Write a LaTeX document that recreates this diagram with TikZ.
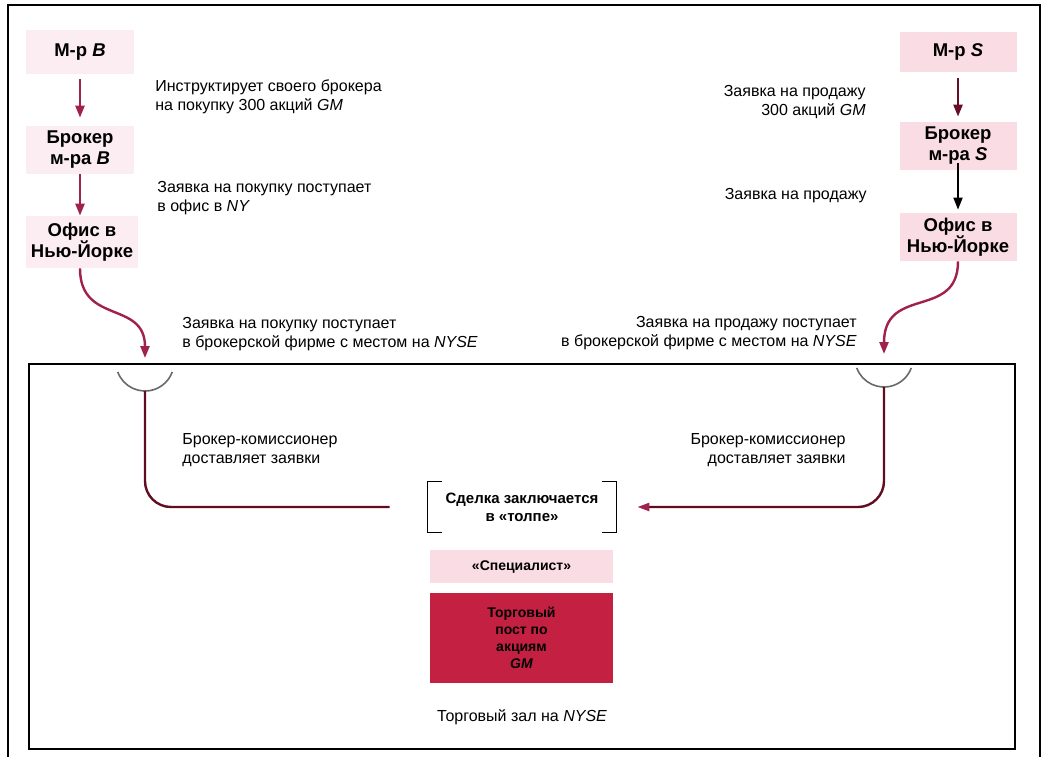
\documentclass[tikz,border=0pt]{standalone}
\usepackage{fontspec}
\setmainfont{Liberation Sans}
\usetikzlibrary{arrows.meta}

\definecolor{orderred}{RGB}{160,32,78}
\definecolor{wine}{RGB}{98,12,34}
\definecolor{blush}{RGB}{250,220,228}
\definecolor{postred}{RGB}{196,32,66}
\definecolor{arcgray}{RGB}{105,105,105}

\tikzset{every picture/.style={line width=0.75pt}}
\tikzset{
  party/.style={fill=blush, align=center, inner sep=0pt, minimum width=108, font=\bfseries\fontsize{18.5}{21}\selectfont},
  note/.style={inner sep=0pt, font=\fontsize{16}{19}\selectfont},
  order/.style={draw=orderred, line width=2.4pt, -{Triangle[length=12pt,width=9pt]}},
  route/.style={draw=wine, line width=2.4pt, rounded corners=26pt},
  floorbox/.style={minimum width=183, inner sep=0pt, align=center, font=\bfseries\fontsize{14}{17}\selectfont}
}

\begin{document}
\begin{tikzpicture}[x=1pt,y=1pt,yscale=-1,xscale=1]
\useasboundingbox (0,0) rectangle (1043,756);

%Frames
\draw [line width=2pt] (8,760) -- (8,5) -- (1040,5) -- (1040,760) ;
\draw [line width=1.2pt] (29,364) rectangle (1015,749) ;

% Buyer side
\draw (80,52) node [party, fill=blush!50, minimum height=44] (mrB) {М-р \textit{B}};
\draw (80,150) node [party, fill=blush!50, minimum height=48] (brokerB) {Брокер\\м-ра \textit{B}};
\draw (82,242) node [party, fill=blush!50, minimum height=52, minimum width=112] (officeB) {Офис в\\Нью-Йорке};

% Seller side
\draw (958,52) node [party, minimum width=117, minimum height=40] (mrS) {М-р \textit{S}};
\draw (958,146) node [party, minimum width=117, minimum height=48] (brokerS) {Брокер\\м-ра \textit{S}};
\draw (958,237) node [party, minimum width=117, minimum height=48] (officeS) {Офис в\\Нью-Йорке};

% Text Node
\draw (155,97) node [note, anchor=west, align=left] (instr) {Инструктирует своего брокера\\на покупку 300 акций \textit{GM}};
% Text Node
\draw (157,198) node [note, anchor=west, align=left] (buyNY) {Заявка на покупку поступает\\в офис в \textit{NY}};
% Text Node
\draw (182,334) node [note, anchor=west, align=left] (buyFirm) {Заявка на покупку поступает\\в брокерской фирме с местом на \textit{NYSE}};
% Text Node
\draw (182,450) node [note, anchor=west, align=left] (buyComm) {Брокер-комиссионер\\доставляет заявки};
% Text Node
\draw (866,102) node [note, anchor=east, align=right] (sellGM) {Заявка на продажу\\300 акций \textit{GM}};
% Text Node
\draw (867,196) node [note, anchor=east, align=right] (sellNY) {Заявка на продажу};
% Text Node
\draw (857,333) node [note, anchor=east, align=right] (sellFirm) {Заявка на продажу поступает\\в брокерской фирме с местом на \textit{NYSE}};
% Text Node
\draw (846,450) node [note, anchor=east, align=right] (sellComm) {Брокер-комиссионер\\доставляет заявки};
% Text Node
\draw (522,717) node [note] (hall) {Торговый зал на \textit{NYSE}};

% Trading crowd and specialist post
\draw (522,507) node [floorbox, minimum width=188, minimum height=50, font=\bfseries\fontsize{15}{18}\selectfont] (deal) {Сделка заключается\\в «толпе»};
\draw ([xshift=14pt]deal.north west) -- (deal.north west) -- (deal.south west) -- ([xshift=14pt]deal.south west) ;
\draw ([xshift=-14pt]deal.north east) -- (deal.north east) -- (deal.south east) -- ([xshift=-14pt]deal.south east) ;
\draw (521.5,566.5) node [floorbox, fill=blush, minimum height=33] (spec) {«Специалист»};
\draw (521.5,638) node [floorbox, fill=postred, minimum height=90] (post) {Торговый\\пост по\\акциям\\\textit{GM}};

% Entry points on the floor
\coordinate (buyArc) at (145,362);
\coordinate (sellArc) at (884,358);
\coordinate (buyTip) at (145,358);
\coordinate (sellTip) at (884,354);
\draw [arcgray, line width=1.6pt] (buyArc) ++(160:29) arc [start angle=160, end angle=20, radius=29] ;
\draw [arcgray, line width=1.6pt] (sellArc) ++(160:29) arc [start angle=160, end angle=20, radius=29] ;
\coordinate (buyFoot) at (145,391);
\coordinate (sellFoot) at (884,387);

%Straight Lines
\draw [order, shorten <=5pt, shorten >=8pt] (mrB) -- (brokerB) ;
\draw [order] (brokerB) -- (officeB.north -| brokerB) ;
\draw [order, draw=wine!90!orderred, shorten <=6pt, shorten >=5pt] (mrS) -- (brokerS) ;
\draw [order, draw=black, line width=1.8pt, shorten <=-7pt, shorten >=3pt] (brokerS) -- (officeS) ;

%Curve Lines
\draw [order] (officeB.south -| brokerB) .. controls (80,325) and (145,300) .. (buyTip) ;
\draw [order] (officeS.south) .. controls (958,320) and (884,285) .. (sellTip) ;

% Commission broker routes
\draw [route, shorten >=38pt] (buyFoot) |- (deal.west) ;
\draw [route, -{Triangle[length=12pt,width=8pt,color=orderred]}, shorten >=21pt] (sellFoot) |- (deal.east) ;

\end{tikzpicture}
\end{document}
